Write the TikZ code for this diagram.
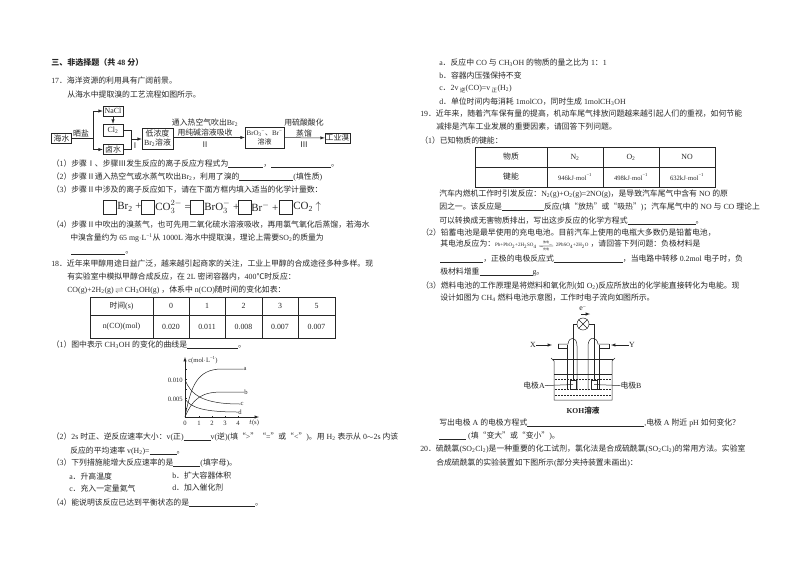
\documentclass[tikz,border=0pt]{standalone}
\usepackage{amsmath}
\usepackage{fontspec}
\setmainfont{Liberation Serif}
\newfontfamily\cjk{Noto Sans CJK SC}
\usetikzlibrary{calc}
% chinese runs switch font on their own
\newXeTeXintercharclass\cjkclass
\newcount\cjkchar
\newcommand\cjkrange[2]{\cjkchar=#1
  \loop\ifnum\cjkchar<#2 \XeTeXcharclass\cjkchar=\cjkclass \advance\cjkchar by 1 \repeat}
\cjkrange{"4E00}{"A000}
\cjkrange{"3000}{"3040}
\cjkrange{"FF00}{"FFF0}
\cjkrange{"2150}{"2190}
\cjkrange{"2010}{"2028}
\cjkrange{"2103}{"2104}
\XeTeXinterchartokenstate=1
\XeTeXinterchartoks 0 \cjkclass={\begingroup\cjk}
\XeTeXinterchartoks 4095 \cjkclass={\begingroup\cjk}
\XeTeXinterchartoks \cjkclass 0={\endgroup}
\XeTeXinterchartoks \cjkclass 4095={\endgroup}
\newcommand\fillin[1]{\rule[-1pt]{#1pt}{0.4pt}}
\newcommand\xb[1]{\textsubscript{#1}}
\newcommand\xs[1]{\textsuperscript{#1}}

\begin{document}
\begin{tikzpicture}[
x=1pt, y=-1pt,
every node/.style={text=black!85, font=\fontsize{7.85}{9}\selectfont},
txt/.style={anchor=west, inner sep=0pt},
flowbox/.style={draw, inner sep=0pt, align=center, minimum height=10pt},
blankbox/.style={draw, minimum width=13pt, minimum height=14pt, inner sep=0pt},
eqn/.style={anchor=west, inner sep=0pt, font=\fontsize{11}{12}\selectfont},
cell/.style={inner sep=0pt},
tick/.style={font=\fontsize{6.6}{8}\selectfont, inner sep=0pt},
draw=black!85, line width=0.5pt
]
\useasboundingbox (0,0) rectangle (794,562);

% left column
\node[txt, font=\fontsize{8}{9}\selectfont\bfseries] (title) at (51,62.5) {三、非选择题（共 48 分）};
\node[txt] (q17) at (51,81) {17．海洋资源的利用具有广阔前景。};
\node[txt] (q17b) at (67,95) {从海水中提取溴的工艺流程如图所示。};

% flow chart
\node[flowbox, minimum width=20pt] (sea) at (61.5,138.5) {海水};
\node[flowbox, minimum width=20pt] (nacl) at (113,111) {NaCl};
\node[flowbox, minimum width=20pt, minimum height=12pt] (cl) at (113,130) {Cl\xb{2}};
\node[flowbox, minimum width=20pt] (brine) at (113,149.5) {卤水};
\node[flowbox, minimum width=31pt, minimum height=21pt] (low) at (157.5,138.5) {低浓度\\Br\xb{2}溶液};
\node[flowbox, minimum width=39pt, minimum height=21pt, font=\fontsize{7}{9}\selectfont] (bro) at (264.5,137.5) {BrO\xb{3}\xs{−}、Br\xs{−}\\溶液};
\node[flowbox, minimum width=25pt] (ind) at (337.5,138) {工业溴};
\coordinate (fork) at (93,138.5);
\coordinate (join) at (131,139);
\draw (sea) -- (fork);
\draw[-latex] (fork) |- (nacl);
\draw[-latex] (fork) |- (brine);
\draw[-latex] (nacl) -- (cl);
\draw (cl.east) -| (join);
\draw (brine.east) -| (join);
\draw[-latex] (join) -- (low.west |- join);
\draw[-latex] (low.east |- bro) -- (bro);
\draw[-latex] (bro) -- (ind);
\node[cell] (salt) at (81,133) {晒盐};
\node[cell] (s1) at (135,146) {Ⅰ};
\node[cell] (s2a) at (205,123) {通入热空气吹出Br\xb{2}};
\node[cell] (s2b) at (205,133) {用纯碱溶液吸收};
\node[cell] (s2) at (205,145) {Ⅱ};
\node[cell] (s3a) at (304,123) {用硫酸酸化};
\node[cell] (s3b) at (304,134) {蒸馏};
\node[cell] (s3) at (304,145) {Ⅲ};

\node[txt] (p1) at (51.5,164) {（1）步骤Ⅰ、步骤Ⅲ发生反应的离子反应方程式为\fillin{35}，\fillin{60}。};
\node[txt] (p2) at (51.5,177) {（2）步骤Ⅱ通入热空气或水蒸气吹出Br\xb{2}，利用了溴的\fillin{54}(填性质)};
\node[txt] (p3) at (51.5,190) {（3）步骤Ⅱ中涉及的离子反应如下，请在下面方框内填入适当的化学计量数：};

% equation
\node[blankbox] (b1) at (109.5,207) {};
\node[eqn] (e1) at (117,207) {Br\xb{2} +};
\node[blankbox] (b2) at (147.5,207) {};
\node[eqn] (e2) at (155,207) {CO$_3^{2-}$ =};
\node[blankbox] (b3) at (197,207) {};
\node[eqn] (e3) at (204,207) {BrO$_3^{-}$ +};
\node[blankbox] (b4) at (244.5,207) {};
\node[eqn] (e4) at (251,207) {Br$^{-}$ +};
\node[blankbox] (b5) at (285.5,207) {};
\node[eqn] (e5) at (293,207) {CO\xb{2} $\uparrow$};

\node[txt] (p4) at (51.5,225) {（4）步骤Ⅱ中吹出的溴蒸气，也可先用二氧化硫水溶液吸收，再用氯气氧化后蒸馏，若海水};
\node[txt] (p4b) at (70,238) {中溴含量约为 65 mg$\cdot$L\xs{−1}从 1000L 海水中提取溴，理论上需要SO\xb{2}的质量为};
\node[txt] (p4c) at (71,253) {\fillin{54}。};

\node[txt] (q18) at (51,264) {18．近年来甲醇用途日益广泛，越来越引起商家的关注，工业上甲醇的合成途径多种多样。现};
\node[txt] (q18b) at (67,277) {有实验室中模拟甲醇合成反应，在 2L 密闭容器内，400℃时反应：};
\node[txt] (q18c) at (67,290) {CO(g)+2H\xb{2}(g)\,$\rightleftharpoons$\,CH\xb{3}OH(g) ，体系中 n(CO)随时间的变化如表：};

% table of n(CO)
\draw[line width=0.6pt] (90,297) rectangle (335,338);
\draw[line width=0.6pt] (90,315) -- (335,315);
\foreach \xc in {153,189,225,262,298}
  \draw[line width=0.6pt] (\xc,297) -- (\xc,338);
\node[cell] (th) at (121.5,306) {时间(s)};
\node[cell] (tn) at (121.5,327) {n(CO)(mol)};
\foreach \xc/\tm/\nv in {171/0/0.020,207/1/0.011,243.5/2/0.008,280/3/0.007,316.5/5/0.007}
{
  \node[cell] (t\tm) at (\xc,306) {\tm};
  \node[cell] (n\tm) at (\xc,327) {\nv};
}

\node[txt] (r1) at (51.5,345) {（1）图中表示 CH\xb{3}OH 的变化的曲线是\fillin{51}。};

% chart
\coordinate (o) at (185,417);
\coordinate (ytop) at (185,357);
\coordinate (xend) at (259,417);
\draw[-latex] (o) -- (ytop);
\draw[-latex] (o) -- (xend);
\foreach \xc in {199,212,225,238}
  \draw (\xc,417) -- (\xc,415.5);
\foreach \yc in {369,379,389,398,408}
  \draw (185,\yc) -- (186.5,\yc);
\node[txt, font=\fontsize{6.6}{8}\selectfont] (ylab) at (188,360) {c(mol$\cdot$L\xs{−1})};
\node[tick, anchor=east] (y10) at (183,380) {0.010};
\node[tick, anchor=east] (y5) at (183,399) {0.005};
\node[tick] (x0) at (185,423) {0};
\node[tick] (x1) at (199,423) {1};
\node[tick] (x2) at (212,423) {2};
\node[tick] (x3) at (225,423) {3};
\node[tick] (x4) at (238,423) {4};
\node[tick] (xlab) at (254,423) {$t$(s)};
\node[tick] (la) at (245,369) {a};
\node[tick] (lb) at (246,392) {b};
\node[tick] (lc) at (242,404) {c};
\node[tick] (ld) at (240,412) {d};
\draw (o) .. controls (191,386) and (197,369) .. (222,369) -- (la.west);
\draw (o) .. controls (193,398) and (202,392) .. (222,392) -- (lb.west);
\draw (y10.east -| o) .. controls (191,394) and (201,404) .. (lc.west);
\draw (y5.east -| o) .. controls (191,408) and (205,412) .. (ld.west);

\node[txt] (r2) at (51.5,437) {（2）2s 时正、逆反应速率大小：v(正)\fillin{27}v(逆)(填“>”“=”或“<”)。用 H\xb{2} 表示从 0$\sim$2s 内该};
\node[txt] (r2b) at (70,451) {反应的平均速率 v(H\xb{2})=\fillin{27}。};
\node[txt] (r3) at (51.5,463) {（3）下列措施能增大反应速率的是\fillin{27}(填字母)。};
\node[txt] (oa) at (69,476) {a．升高温度};
\node[txt] (ob) at (172,476) {b．扩大容器体积};
\node[txt] (oc) at (69,488) {c．充入一定量氦气};
\node[txt] (od) at (172,488) {d．加入催化剂};
\node[txt] (r4) at (51.5,503) {（4）能说明该反应已达到平衡状态的是\fillin{66}。};

% right column
\node[txt] (ra) at (439,63) {a．反应中 CO 与 CH\xb{3}OH 的物质的量之比为 1：1};
\node[txt] (rb) at (439,76) {b．容器内压强保持不变};
\node[txt] (rc) at (439,89) {c．2v\,\xb{逆}(CO)=v\,\xb{正}(H\xb{2})};
\node[txt] (rd) at (439,102) {d．单位时间内每消耗 1molCO，同时生成 1molCH\xb{3}OH};
\node[txt] (q19) at (420,114) {19．近年来，随着汽车保有量的提高，机动车尾气排放问题越来越引起人们的重视，如何节能};
\node[txt] (q19b) at (436,127) {减排是汽车工业发展的重要因素，请回答下列问题。};
\node[txt] (u1) at (420,141) {（1）已知物质的键能：};

% table of bond energies
\draw[line width=0.6pt] (475,147) rectangle (715,187);
\draw[line width=0.6pt] (475,167) -- (715,167);
\foreach \xc in {547,603,659}
  \draw[line width=0.6pt] (\xc,147) -- (\xc,187);
\node[cell] (kh) at (511,157) {物质};
\node[cell] (kb) at (511,177) {键能};
\foreach \xc/\sp/\ev in {575/N\xb{2}/946,631/O\xb{2}/498,687/NO/632}
{
  \node[cell] (s\ev) at (\xc,157) {\sp};
  \node[cell, font=\fontsize{6.6}{8}\selectfont] (v\ev) at (\xc,177) {\ev kJ$\cdot$mol\xs{−1}};
}

\node[txt] (u1a) at (439,194) {汽车内燃机工作时引发反应：N\xb{2}(g)+O\xb{2}(g)=2NO(g)，是导致汽车尾气中含有 NO 的原};
\node[txt] (u1b) at (439,207) {因之一。该反应是\fillin{42}反应(填“放热”或“吸热”)；汽车尾气中的 NO 与 CO 理论上};
\node[txt] (u1c) at (439,221) {可以转换成无害物质排出，写出这步反应的化学方程式\fillin{68}。};
\node[txt] (u2) at (421,233) {（2）铅蓄电池是最早使用的充电电池。目前汽车上使用的电瓶大多数仍是铅蓄电池，};
\node[txt] (u2a) at (440,246) {其电池反应为：{\fontsize{5}{6}\selectfont Pb+PbO\xb{2}+2H\xb{2}SO\xb{4}\,$\underset{\mbox{\fontsize{3}{3}\selectfont 充电}}{\overset{\mbox{\fontsize{3}{3}\selectfont 放电}}{\scalebox{2.6}[0.7]{$\rightleftharpoons$}}}$\,2PbSO\xb{4}+2H\xb{2}O} ，请回答下列问题：负极材料是};
\node[txt] (u2b) at (440,259) {\fillin{43}，正极的电极反应式\fillin{69}，当电路中转移 0.2mol 电子时，负};
\node[txt] (u2c) at (440,272) {极材料增重\fillin{53}g。};
\node[txt] (u3) at (421,286) {（3）燃料电池的工作原理是将燃料和氧化剂(如 O\xb{2})反应所放出的化学能直接转化为电能。现};
\node[txt] (u3a) at (440,298) {设计如图为 CH\xb{4} 燃料电池示意图，工作时电子流向如图所示。};

% fuel cell
\node[circle, draw, minimum size=12pt, inner sep=0pt] (lamp) at (583,324) {};
\draw (lamp.north west) -- (lamp.south east);
\draw (lamp.north east) -- (lamp.south west);
\node[cell] (elec) at (583,308.5) {e\xs{−}};
\coordinate (ea) at (581,314);
\coordinate (eb) at (590,314);
\draw[-latex] (ea) -- (eb);
\node[draw, minimum width=6pt, minimum height=9pt, inner sep=0pt] (ela) at (573,384.5) {};
\node[draw, minimum width=6pt, minimum height=9pt, inner sep=0pt] (elb) at (594,384.5) {};
\draw (lamp.west) -| (ela.north);
\draw (lamp.east) -| (elb.north);
% tubes
\draw (558,344) -- (568,344) .. controls (569,336) and (577,336) .. (577,346) -- (577,390);
\draw (558,344) -- (558,348) -- (567,348) -- (567,390);
\draw (609,344) -- (598,344) .. controls (597,336) and (588,336) .. (588,346) -- (588,390);
\draw (609,344) -- (609,348) -- (599,348) -- (599,390);
\draw (567,345) -- (567,348);
\draw (599,345) -- (599,348);
% beaker
\draw (551,358) -- (554,361) -- (554,400) -- (612,400) -- (612,361) -- (615,358);
\draw (553,359.5) -- (613,359.5);
\draw (554,374) -- (612,374);
\foreach \yc in {379,389,395}
  \draw[dashed, dash pattern=on 1.5pt off 1.5pt] (555,\yc) -- (611,\yc);
\node[cell] (lx) at (533,345) {X};
\node[cell] (ly) at (632,345) {Y};
\coordinate (xin) at (552,345);
\coordinate (yin) at (611,345);
\draw[-latex] (lx) -- (xin);
\draw[-latex] (ly) -- (yin);
\node[cell] (lea) at (534,386) {电极A};
\node[cell] (leb) at (631,386) {电极B};
\draw (lea) -- (ela.center);
\draw (leb) -- (elb.center);
\node[cell, font=\fontsize{7.6}{9}\selectfont\bfseries] (koh) at (583,411) {KOH溶液};

\node[txt] (w1) at (439,423) {写出电极 A 的电极方程式\fillin{117},电极 A 附近 pH 如何变化？};
\node[txt] (w2) at (439,436) {\fillin{27} (填“变大”或“变小”)。};
\node[txt] (q20) at (420,449) {20．硫酰氯(SO\xb{2}Cl\xb{2})是一种重要的化工试剂，氯化法是合成硫酰氯(SO\xb{2}Cl\xb{2})的常用方法。实验室};
\node[txt] (q20b) at (436,463) {合成硫酰氯的实验装置如下图所示(部分夹持装置未画出)：};
\end{tikzpicture}
\end{document}
